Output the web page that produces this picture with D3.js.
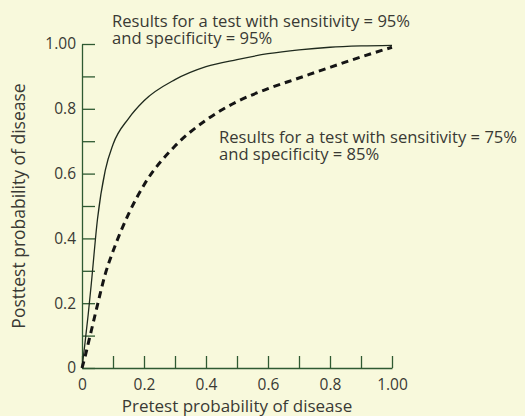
<!DOCTYPE html>
<html>
<head>
<meta charset="utf-8">
<script src="https://cdn.jsdelivr.net/npm/d3@7"></script>
<style>
  body { margin: 0; background: #f8f9dc; }
  svg { display: block; font-family: "Open Sans", sans-serif; }
</style>
</head>
<body>
<div id="chart"></div>
<script>
// pretest probabilities read along the x axis
var pretest = [0, 0.01, 0.02, 0.03, 0.05, 0.075, 0.1, 0.15, 0.2, 0.3, 0.4, 0.5, 0.6, 0.7, 0.8, 0.9, 1.0];
// sensitivity 95%, specificity 95% (solid)
var postHigh = [0, 0.08, 0.165, 0.26, 0.46, 0.61, 0.69, 0.77, 0.825, 0.89, 0.93, 0.952, 0.97, 0.982, 0.99, 0.994, 0.996];
// sensitivity 75%, specificity 85% (dashed)
var postLow = [0, 0.035, 0.075, 0.115, 0.195, 0.29, 0.36, 0.475, 0.565, 0.685, 0.765, 0.822, 0.862, 0.895, 0.928, 0.96, 0.99];
var tickValues = [0, 0.1, 0.2, 0.3, 0.4, 0.5, 0.6, 0.7, 0.8, 0.9, 1.0];

var width = 525, height = 416;
var axisColor = "#2f5a32", textColor = "#3a3a34";

var svg = d3.select("#chart").append("svg")
    .attr("width", width)
    .attr("height", height)
    .style("background-color", "#f8f9dc");

var x = d3.scaleLinear().domain([0, 1]).range([82, 392]);
var y = d3.scaleLinear().domain([0, 1]).range([368, 44]);

function fmt(d) {
  var i = Math.round(d * 10);
  if (i % 2) return "";
  if (i == 0) return "0";
  if (i == 10) return "1.00";
  return d.toFixed(1);
}

var yAxis = svg.append("g")
    .attr("transform", "translate(82,0)")
    .call(d3.axisLeft(y).tickValues(tickValues).tickSize(-13).tickSizeOuter(0).tickPadding(6).tickFormat(fmt));

var xAxis = svg.append("g")
    .attr("transform", "translate(0,368)")
    .call(d3.axisBottom(x).tickValues(tickValues).tickSize(-12).tickSizeOuter(0).tickPadding(11).tickFormat(fmt));

svg.selectAll(".domain, .tick line")
    .attr("stroke", axisColor)
    .attr("stroke-width", 1.3);
svg.selectAll(".tick text")
    .attr("fill", textColor)
    .style("font-family", "'Open Sans', sans-serif")
    .style("font-size", "15.5px");

var line = d3.line()
    .x(function(d) { return x(d[0]); })
    .y(function(d) { return y(d[1]); })
    .curve(d3.curveMonotoneX);

svg.append("path")
    .datum(d3.zip(pretest, postHigh))
    .attr("d", line)
    .attr("fill", "none")
    .attr("stroke", "#1f2a1d")
    .attr("stroke-width", 1.3);

svg.append("path")
    .datum(d3.zip(pretest, postLow))
    .attr("d", line)
    .attr("fill", "none")
    .attr("stroke", "#151515")
    .attr("stroke-width", 3)
    .attr("stroke-dasharray", "7,5");

var notes = [
  { x: 112, y: 27, lines: ["Results for a test with sensitivity = 95%", "and specificity = 95%"] },
  { x: 219, y: 143, lines: ["Results for a test with sensitivity = 75%", "and specificity = 85%"] }
];

notes.forEach(function(n) {
  n.lines.forEach(function(l, i) {
    svg.append("text")
        .attr("x", n.x)
        .attr("y", n.y + i * 16.5)
        .attr("fill", textColor)
        .style("font-size", "16.6px")
        .text(l);
  });
});

svg.append("text")
    .attr("x", 237)
    .attr("y", 412)
    .attr("text-anchor", "middle")
    .attr("fill", textColor)
    .style("font-size", "17px")
    .text("Pretest probability of disease");

svg.append("text")
    .attr("transform", "translate(25,206) rotate(-90)")
    .attr("text-anchor", "middle")
    .attr("fill", textColor)
    .style("font-size", "17.5px")
    .text("Posttest probability of disease");
</script>
</body>
</html>
